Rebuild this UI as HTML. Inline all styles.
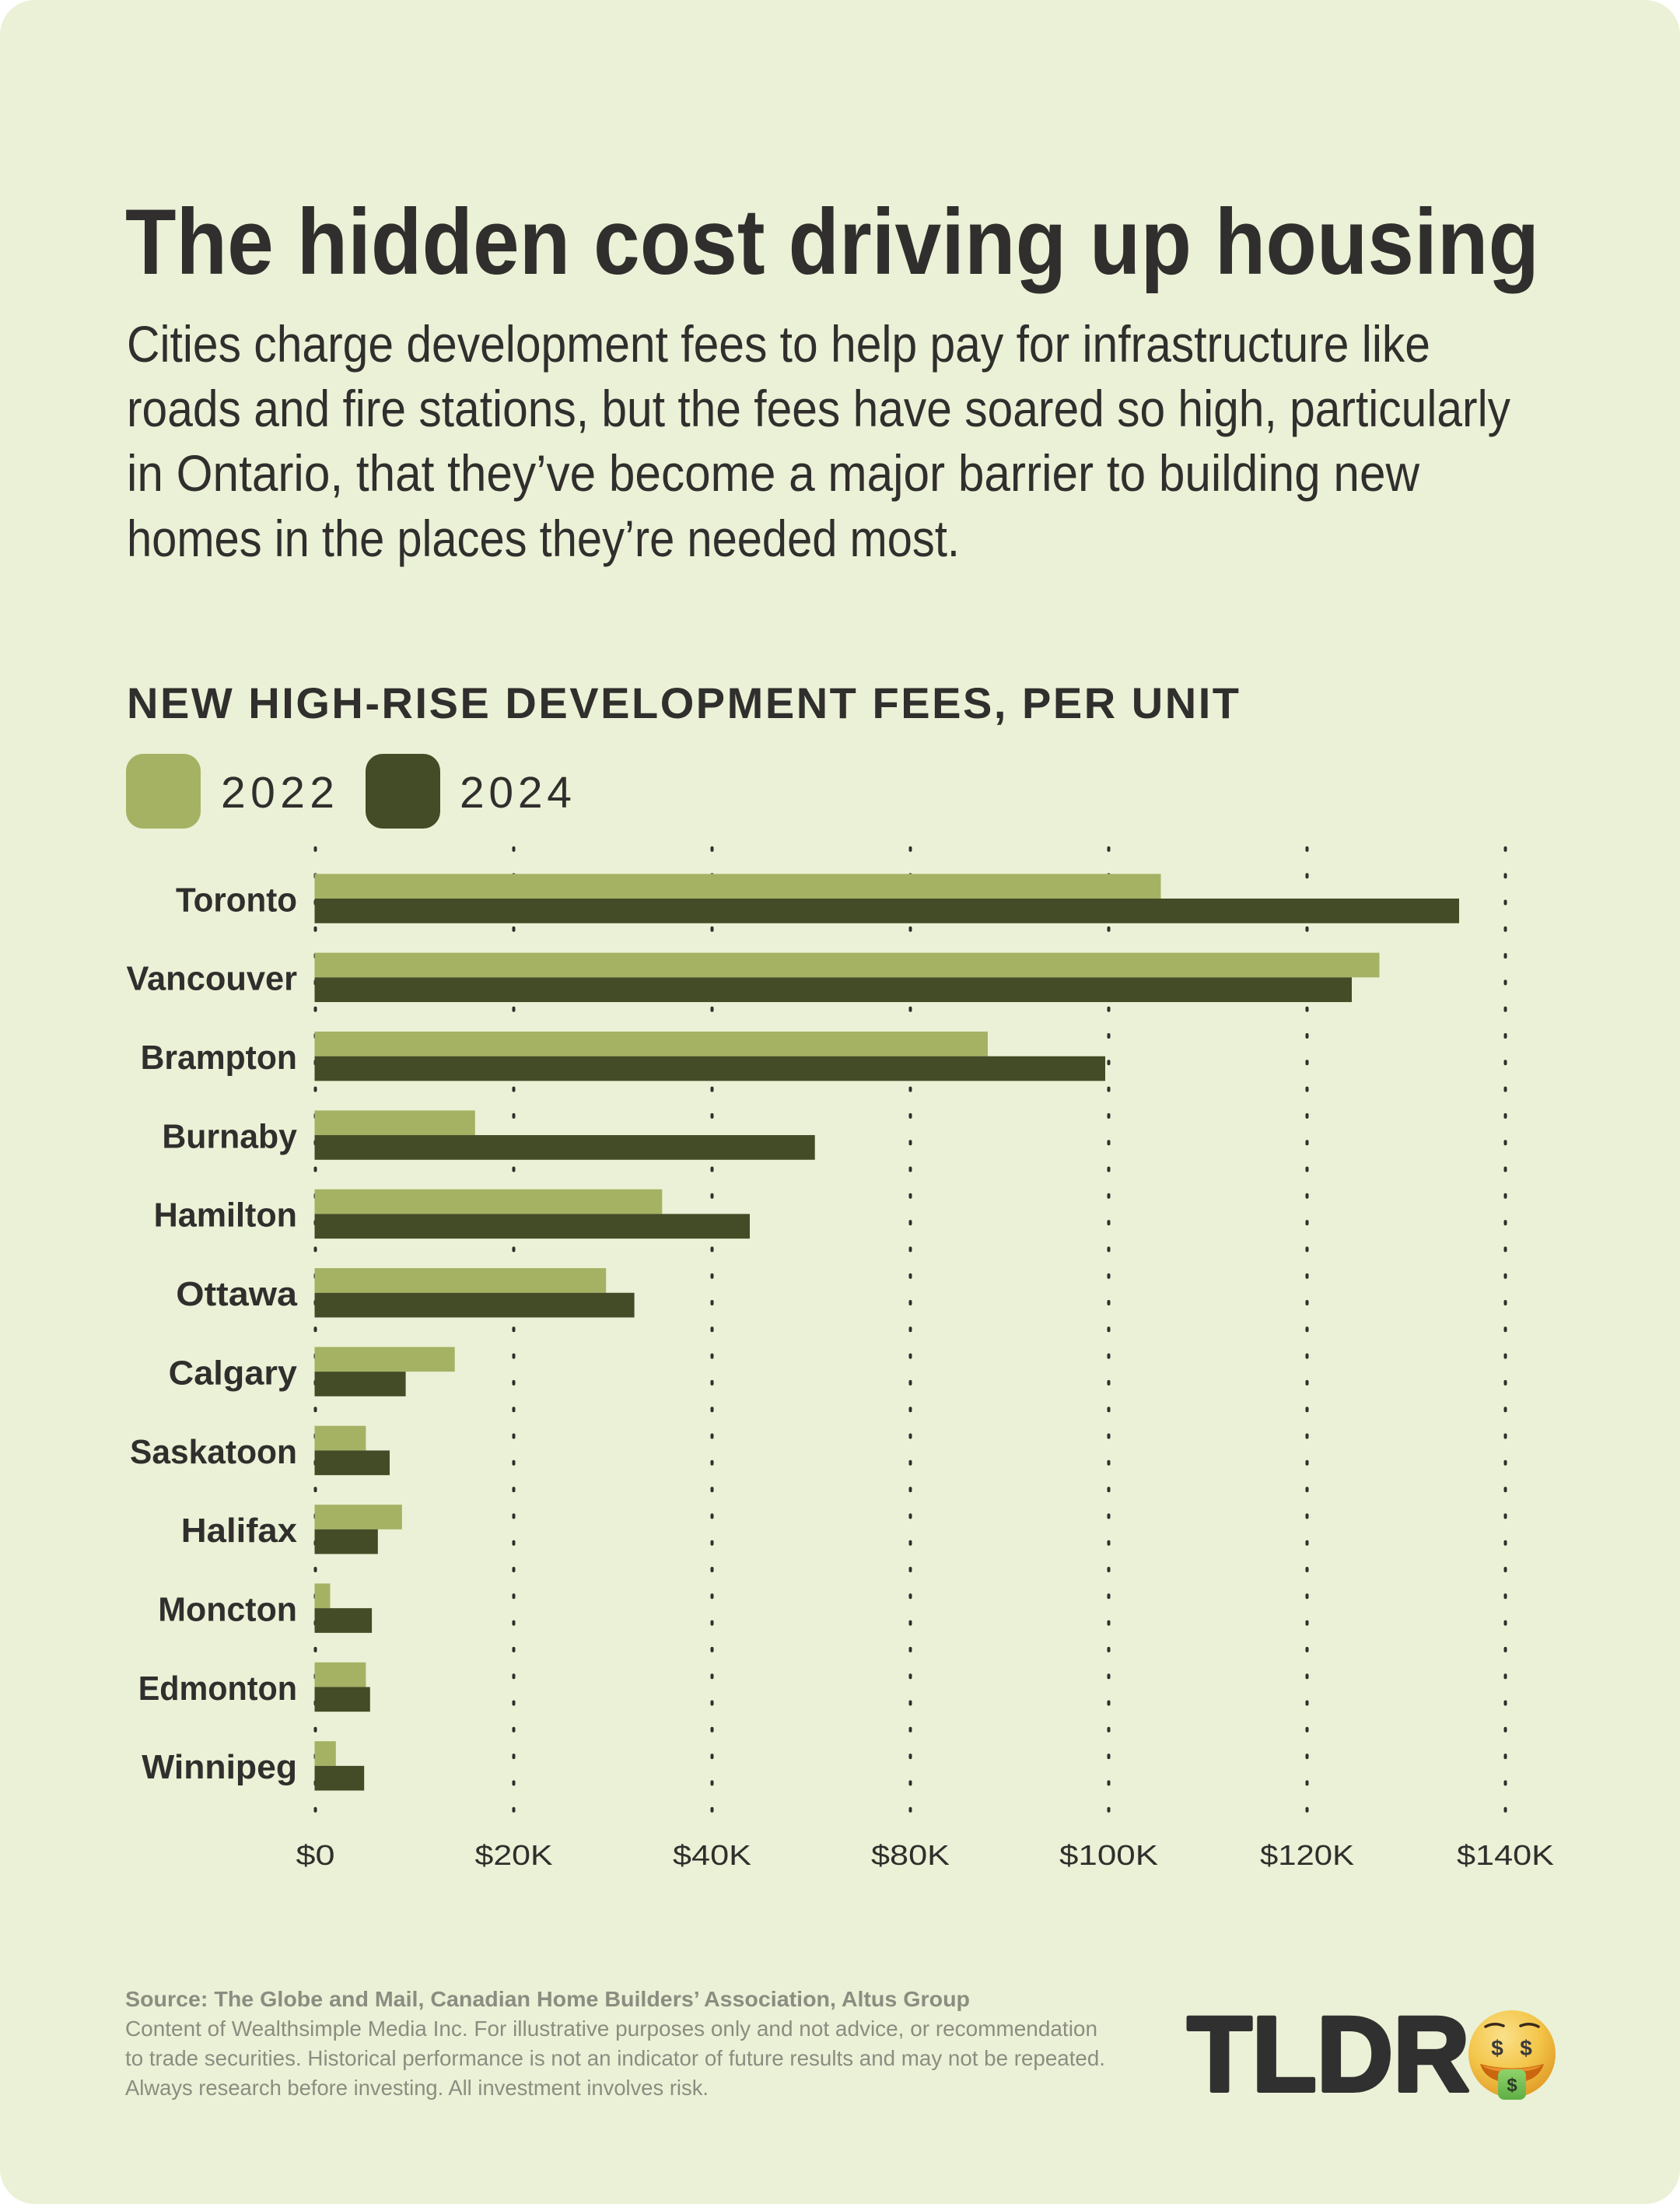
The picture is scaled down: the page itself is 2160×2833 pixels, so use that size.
<!DOCTYPE html>
<html>
<head>
<meta charset="utf-8">
<style>
  html, body { margin: 0; padding: 0; background: #ffffff; }
  svg { display: block; }
  text { font-family: "Liberation Sans", "DejaVu Sans", sans-serif; }
</style>
</head>
<body>
<svg xmlns="http://www.w3.org/2000/svg" width="2160" height="2833" viewBox="0 0 2160 2833">
  <defs>
    <radialGradient id="face" cx="0.4" cy="0.3" r="0.75">
      <stop offset="0" stop-color="#fbe08a"/>
      <stop offset="0.55" stop-color="#f3c64a"/>
      <stop offset="1" stop-color="#e09a25"/>
    </radialGradient>
    <linearGradient id="tongue" x1="0" y1="0" x2="0" y2="1">
      <stop offset="0" stop-color="#8fd36a"/>
      <stop offset="1" stop-color="#5fae45"/>
    </linearGradient>
  </defs>

  <!-- card -->
  <rect x="0" y="0" width="2160" height="2833" rx="45" ry="45" fill="#ebf1d6"/>

  <!-- title -->
  <text x="161" y="352" font-size="120" font-weight="bold" fill="#302f2d" textLength="1818" lengthAdjust="spacingAndGlyphs">The hidden cost driving up housing</text>

  <!-- subtitle -->
  <g font-size="66" fill="#302f2d">
    <text x="163" y="465" textLength="1676" lengthAdjust="spacingAndGlyphs">Cities charge development fees to help pay for infrastructure like</text>
    <text x="163" y="548" textLength="1779" lengthAdjust="spacingAndGlyphs">roads and fire stations, but the fees have soared so high, particularly</text>
    <text x="163" y="631" textLength="1662" lengthAdjust="spacingAndGlyphs">in Ontario, that they’ve become a major barrier to building new</text>
    <text x="163" y="715" textLength="1071" lengthAdjust="spacingAndGlyphs">homes in the places they’re needed most.</text>
  </g>

  <!-- chart title -->
  <text x="163" y="923" font-size="56" font-weight="bold" fill="#302f2d" textLength="1430" lengthAdjust="spacing">NEW HIGH-RISE DEVELOPMENT FEES, PER UNIT</text>

  <!-- legend -->
  <rect x="162" y="969" width="96" height="96" rx="22" ry="22" fill="#a5b264"/>
  <text x="284" y="1038" font-size="57" fill="#302f2d" textLength="146" lengthAdjust="spacing">2022</text>
  <rect x="470" y="969" width="96" height="96" rx="22" ry="22" fill="#444b27"/>
  <text x="591" y="1038" font-size="57" fill="#302f2d" textLength="144" lengthAdjust="spacing">2024</text>

  <!-- dotted gridlines -->
  <g stroke="#302f2d" stroke-width="4" stroke-linecap="round" stroke-dasharray="3 31.3">
    <line x1="405.5" y1="1089.9" x2="405.5" y2="2330"/>
    <line x1="660.5" y1="1089.9" x2="660.5" y2="2330"/>
    <line x1="915.5" y1="1089.9" x2="915.5" y2="2330"/>
    <line x1="1170.5" y1="1089.9" x2="1170.5" y2="2330"/>
    <line x1="1425.5" y1="1089.9" x2="1425.5" y2="2330"/>
    <line x1="1680.5" y1="1089.9" x2="1680.5" y2="2330"/>
    <line x1="1935.5" y1="1089.9" x2="1935.5" y2="2330"/>
  </g>

  <!-- bars 2022 -->
  <g fill="#a5b264">
    <rect x="404.5" y="1123.3" width="1088" height="31.7"/>
    <rect x="404.5" y="1224.65" width="1369" height="31.7"/>
    <rect x="404.5" y="1326.0" width="865.5" height="31.7"/>
    <rect x="404.5" y="1427.35" width="206.3" height="31.7"/>
    <rect x="404.5" y="1528.7" width="446.8" height="31.7"/>
    <rect x="404.5" y="1630.05" width="374.7" height="31.7"/>
    <rect x="404.5" y="1731.4" width="180.2" height="31.7"/>
    <rect x="404.5" y="1832.75" width="65.9" height="31.7"/>
    <rect x="404.5" y="1934.1" width="112.3" height="31.7"/>
    <rect x="404.5" y="2035.45" width="20" height="31.7"/>
    <rect x="404.5" y="2136.8" width="65.9" height="31.7"/>
    <rect x="404.5" y="2238.15" width="27.3" height="31.7"/>
  </g>
  <!-- bars 2024 -->
  <g fill="#444b27">
    <rect x="404.5" y="1155.0" width="1471.5" height="31.7"/>
    <rect x="404.5" y="1256.35" width="1333.5" height="31.7"/>
    <rect x="404.5" y="1357.7" width="1016.5" height="31.7"/>
    <rect x="404.5" y="1459.05" width="643.2" height="31.7"/>
    <rect x="404.5" y="1560.4" width="559.5" height="31.7"/>
    <rect x="404.5" y="1661.75" width="411.1" height="31.7"/>
    <rect x="404.5" y="1763.1" width="117.1" height="31.7"/>
    <rect x="404.5" y="1864.45" width="96.5" height="31.7"/>
    <rect x="404.5" y="1965.8" width="81.3" height="31.7"/>
    <rect x="404.5" y="2067.15" width="73.6" height="31.7"/>
    <rect x="404.5" y="2168.5" width="71.3" height="31.7"/>
    <rect x="404.5" y="2269.85" width="63.7" height="31.7"/>
  </g>

  <!-- category labels -->
  <g font-size="44" font-weight="bold" fill="#302f2d">
    <text x="226" y="1171.3" textLength="156" lengthAdjust="spacingAndGlyphs">Toronto</text>
    <text x="162.5" y="1272.65" textLength="219.5" lengthAdjust="spacingAndGlyphs">Vancouver</text>
    <text x="180.6" y="1374.0" textLength="201.4" lengthAdjust="spacingAndGlyphs">Brampton</text>
    <text x="208.4" y="1475.35" textLength="173.6" lengthAdjust="spacingAndGlyphs">Burnaby</text>
    <text x="197.6" y="1576.7" textLength="184.4" lengthAdjust="spacingAndGlyphs">Hamilton</text>
    <text x="226.3" y="1678.05" textLength="155.7" lengthAdjust="spacingAndGlyphs">Ottawa</text>
    <text x="216.7" y="1779.4" textLength="165.3" lengthAdjust="spacingAndGlyphs">Calgary</text>
    <text x="167" y="1880.75" textLength="215" lengthAdjust="spacingAndGlyphs">Saskatoon</text>
    <text x="232.8" y="1982.1" textLength="149.2" lengthAdjust="spacingAndGlyphs">Halifax</text>
    <text x="203.3" y="2083.45" textLength="178.7" lengthAdjust="spacingAndGlyphs">Moncton</text>
    <text x="177.7" y="2184.8" textLength="204.3" lengthAdjust="spacingAndGlyphs">Edmonton</text>
    <text x="182.3" y="2286.15" textLength="199.7" lengthAdjust="spacingAndGlyphs">Winnipeg</text>
  </g>

  <!-- x-axis tick labels -->
  <g font-size="36" fill="#302f2d">
    <text x="380.5" y="2397" textLength="50" lengthAdjust="spacingAndGlyphs">$0</text>
    <text x="610.5" y="2397" textLength="100" lengthAdjust="spacingAndGlyphs">$20K</text>
    <text x="865" y="2397" textLength="101" lengthAdjust="spacingAndGlyphs">$40K</text>
    <text x="1120" y="2397" textLength="101" lengthAdjust="spacingAndGlyphs">$80K</text>
    <text x="1362" y="2397" textLength="127" lengthAdjust="spacingAndGlyphs">$100K</text>
    <text x="1620" y="2397" textLength="121" lengthAdjust="spacingAndGlyphs">$120K</text>
    <text x="1873" y="2397" textLength="125" lengthAdjust="spacingAndGlyphs">$140K</text>
  </g>

  <!-- footer -->
  <g font-size="28" fill="#8b8d81">
    <text x="161" y="2579" font-weight="bold" textLength="1086" lengthAdjust="spacingAndGlyphs">Source: The Globe and Mail, Canadian Home Builders’ Association, Altus Group</text>
    <text x="161" y="2617" textLength="1250" lengthAdjust="spacingAndGlyphs">Content of Wealthsimple Media Inc. For illustrative purposes only and not advice, or recommendation</text>
    <text x="161" y="2655" textLength="1260" lengthAdjust="spacingAndGlyphs">to trade securities. Historical performance is not an indicator of future results and may not be repeated.</text>
    <text x="161" y="2693" textLength="750" lengthAdjust="spacingAndGlyphs">Always research before investing. All investment involves risk.</text>
  </g>

  <!-- TLDR logo -->
  <text x="1526.5" y="2687.5" font-size="137" font-weight="bold" fill="#313030" stroke="#313030" stroke-width="5" stroke-linejoin="round" textLength="363" lengthAdjust="spacingAndGlyphs">TLDR</text>

  <!-- money-mouth emoji -->
  <g>
    <circle cx="1944" cy="2640" r="56" fill="url(#face)"/>
    <path d="M1910 2605 Q1921 2599 1933 2604" stroke="#3a2a1a" stroke-width="3.5" fill="none" stroke-linecap="round"/>
    <path d="M1955 2604 Q1967 2599 1978 2605" stroke="#3a2a1a" stroke-width="3.5" fill="none" stroke-linecap="round"/>
    <text x="1925" y="2642" font-size="28" font-weight="bold" fill="#3a3a3a" text-anchor="middle">$</text>
    <text x="1962" y="2642" font-size="28" font-weight="bold" fill="#3a3a3a" text-anchor="middle">$</text>
    <path d="M1903 2653 Q1944 2664 1985 2653 Q1978 2676 1944 2678 Q1910 2676 1903 2653 Z" fill="#c9660e"/>
    <path d="M1906 2655 Q1944 2663 1982 2655 Q1976 2662 1944 2664 Q1912 2662 1906 2655 Z" fill="#e8912a"/>
    <rect x="1926" y="2660" width="36" height="39" rx="8" ry="8" fill="url(#tongue)"/>
    <text x="1944" y="2688" font-size="24" font-weight="bold" fill="#2e3a26" text-anchor="middle">$</text>
  </g>
</svg>
</body>
</html>
